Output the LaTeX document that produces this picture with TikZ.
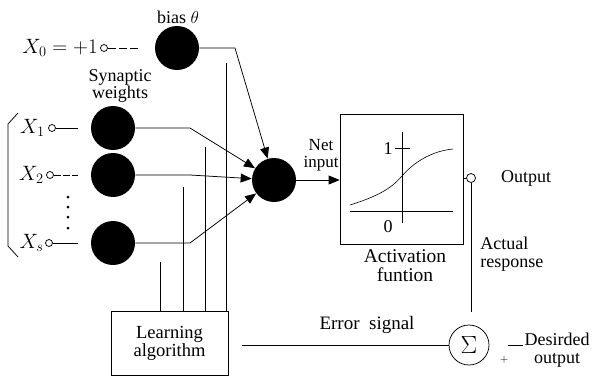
\documentclass[tikz,border=0pt]{standalone}
\usepackage{fontspec}
\setmainfont{Liberation Serif}
\usetikzlibrary{arrows.meta}
\begin{document}
\begin{tikzpicture}[x=1pt,y=-1pt, line width=0.75pt,
  neuron/.style={circle, fill=black, minimum size=44pt, inner sep=0pt},
  port/.style={circle, draw, fill=white, minimum size=7pt, inner sep=0pt},
  lbl/.style={font=\fontsize{18}{17.5}\selectfont, align=center, inner sep=0pt},
  slbl/.style={font=\fontsize{17}{17}\selectfont, align=center, inner sep=0pt},
  xlbl/.style={font=\fontsize{21}{22}\selectfont, inner sep=0pt, anchor=east},
  conn/.style={-{Triangle[length=11pt,width=9pt]}},
  boxnode/.style={draw, inner sep=0pt, align=center, font=\fontsize{18.5}{18}\selectfont},
]
\useasboundingbox (0,0) rectangle (593,378);

% bias
\node[neuron] (b) at (177,48) {};
\node[lbl] (bl) at (178,17) {bias $\theta$};
\node[port] (p0) at (104,48) {};
\node[xlbl] (x0) at (98,48) {$X_0=+1$};
\coordinate (d0) at (140,48);
\draw[dash pattern=on 8pt off 3pt] (p0) -- (d0);

% synaptic weights
\node[lbl] (syn) at (120,86) {Synaptic\\weights};
\node[neuron] (w1) at (113,128) {};
\node[neuron] (w2) at (113,175) {};
\node[neuron] (ws) at (113,243) {};

\node[port] (p1) at (52,128) {};
\node[port] (p2) at (50,175) {};
\node[port] (ps) at (49,243) {};
\node[xlbl] (x1) at (45,128) {$X_1$};
\node[xlbl] (x2) at (44,175) {$X_2$};
\node[xlbl] (xs) at (44,243) {$X_s$};
\coordinate (e1) at (78,128);
\coordinate (e2) at (78,175);
\coordinate (es) at (78,243);
\draw (p1) -- (e1);
\draw[dash pattern=on 7pt off 2pt] (p2) -- (e2);
\draw (ps) -- (es);
\foreach \yy in {197,207,217,228} \fill (68,\yy) circle (1.5pt);
\draw (18,113) -- (8,124) -- (8,246) -- (18,257);

% summing neuron
\node[neuron] (s) at (274,180) {};
\coordinate (kb) at (235,48);
\coordinate (k1) at (190,128);
\coordinate (k2) at (190,175);
\coordinate (ks) at (190,243);
\draw[conn] (b.east) -- (kb) -- (s);
\draw[conn] (w1.east) -- (k1) -- (s);
\draw[conn] (w2.east) -- (k2) -- (s);
\draw[conn] (ws.east) -- (ks) -- (s);

% learning algorithm
\node[boxnode, minimum width=117pt, minimum height=64pt] (la) at (169.5,343) {Learning\\algorithm};
\coordinate (v1) at (160,262);
\coordinate (v2) at (183,187);
\coordinate (v3) at (205,147);
\coordinate (v4) at (226,63);
\foreach \v in {v1,v2,v3,v4} \draw (\v) -- (\v |- la.north);

% activation function
\node[draw, minimum width=123pt, minimum height=130pt, inner sep=0pt] (act) at (401.5,179) {};
\draw[conn] (s.east) -- (s.east -| act.west);
\node[slbl] (net) at (321,155) {Net\\input};
\draw (402,132) -- (402,223);
\draw (350,211) -- (453,211);
\draw (395,148) -- (410,148);
\node[lbl] (one) at (388,149) {1};
\node[lbl] (zero) at (388,227) {0};
\draw[line width=0.6pt] (350,205) .. controls (375,197) and (390,190) .. (402,176) .. controls (414,162) and (432,151) .. (453,149);
\node[lbl, font=\fontsize{19.5}{19}\selectfont] (actl) at (405,266) {Activation\\funtion};

% output
\node[port, minimum size=9pt] (po) at (471,178) {};
\draw (act.east |- po) -- (po);
\node[lbl] (out) at (526,178) {Output};
\node[lbl, align=left, anchor=west] (ar) at (480,254) {Actual\\response};
\coordinate (pd) at (471,312);
\draw (po) -- (pd);

% error
\node[draw, circle, minimum size=40pt, inner sep=0pt, font=\fontsize{25}{25}\selectfont] (sig) at (469,345) {$\Sigma$};
\coordinate (e0) at (242,345);
\draw (e0) -- (sig.west);
\node[lbl, font=\fontsize{19}{19}\selectfont] (err) at (367,325) {Error\ \ signal};
\node[font=\fontsize{11}{11}\selectfont, inner sep=0pt] (plus) at (504,360) {$+$};
\coordinate (m1) at (508,345);
\coordinate (m2) at (523,345);
\draw (m1) -- (m2);
\node[lbl] (des) at (557,350) {Desirded\\output};
\end{tikzpicture}
\end{document}
